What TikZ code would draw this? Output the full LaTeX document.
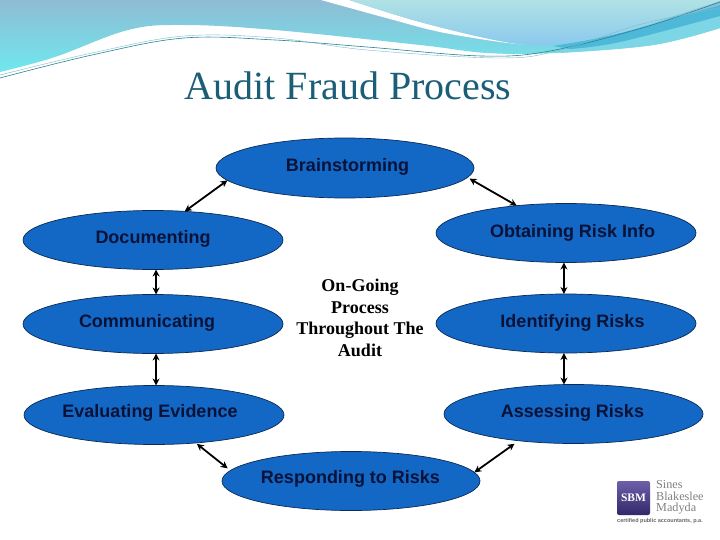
\documentclass[tikz,border=0pt]{standalone}
\usepackage{fontspec}
\setmainfont{Liberation Serif}
\setsansfont{Liberation Sans}
\usetikzlibrary{shapes.geometric,arrows.meta}
\definecolor{ellfill}{HTML}{1268C4}
\definecolor{ellline}{HTML}{0B2A55}
\definecolor{navytext}{HTML}{0A1238}
\definecolor{titlecol}{HTML}{1B5E78}
\definecolor{wavetop}{RGB}{143,188,212}
\definecolor{wavebot}{RGB}{110,232,238}
\definecolor{swelltop}{RGB}{176,226,228}
\definecolor{swellbot}{RGB}{138,200,238}
\definecolor{stripe}{RGB}{77,184,216}
\definecolor{stripeb}{RGB}{125,214,230}
\definecolor{thinA}{RGB}{40,130,150}
\definecolor{thinB}{RGB}{120,190,200}
\definecolor{logotop}{RGB}{110,95,170}
\definecolor{logobot}{RGB}{50,40,105}
\tikzset{
  bubble/.style={ellipse,draw=ellline,fill=ellfill,line width=0.7pt,inner sep=0pt,outer sep=0pt,minimum width=260pt,minimum height=59pt},
  bubbletext/.style={font=\sffamily\bfseries\fontsize{18}{20}\selectfont,text=navytext,inner sep=0pt},
  link/.style={{Stealth[length=7pt,width=7pt]}-{Stealth[length=7pt,width=7pt]},line width=1.8pt,draw=black},
}
\begin{document}
\begin{tikzpicture}[x=1pt,y=-1pt]
\useasboundingbox (0,0) rectangle (720,540);
\fill[white] (0,0) rectangle (720,540);
% header waves
\shade[top color=wavetop,bottom color=wavebot]
  (0,0) -- (720,0) -- (720,28) -- plot[smooth,tension=0.6] coordinates {(720,28) (653,45) (553,53) (487,53) (420,45) (275,30) (184,25) (128,30) (55,57) (0,72)} -- cycle;
\fill[white] plot[smooth,tension=0.6] coordinates {(321,0) (390,19) (440,32) (500,42) (530,45)} -- plot[smooth,tension=0.6] coordinates {(530,45) (500,41) (420,22) (349,0)} -- cycle;
\fill[stripeb] plot[smooth,tension=0.6] coordinates {(553,50) (620,38) (720,10)} -- (720,28) -- plot[smooth,tension=0.6] coordinates {(720,28) (653,45) (560,53)} -- cycle;
\fill[stripe] plot[smooth,tension=0.6] coordinates {(553,46) (620,33) (720,5)} -- (720,16) -- plot[smooth,tension=0.6] coordinates {(720,16) (620,42) (570,49)} -- cycle;
\shade[top color=swelltop,bottom color=swellbot]
  plot[smooth,tension=0.6] coordinates {(349,0) (420,22) (500,41) (553,45) (620,33) (680,14) (720,1)} -- (720,0) -- cycle;
\draw[line width=0.6pt,draw=thinA] plot[smooth,tension=0.6] coordinates {(0,78) (92,55) (184,38) (275,40) (367,47) (482,56) (550,51) (642,28) (720,2)};
\draw[line width=0.4pt,draw=thinB] plot[smooth,tension=0.6] coordinates {(0,75) (92,53) (184,36) (275,38) (367,50) (500,58) (560,50) (642,24) (720,8)};
% title
\node[font=\fontsize{40}{42}\selectfont,text=titlecol,inner sep=0pt] (title) at (348,86) {Audit Fraud Process};
% bubbles
\node[bubble,minimum width=258pt,minimum height=60pt] (brain) at (345,168) {};
\node[bubble] (doc) at (153,240) {};
\node[bubble] (obt) at (566,233) {};
\node[bubble] (com) at (153,324) {};
\node[bubble] (ide) at (566,323.5) {};
\node[bubble] (eva) at (154,415) {};
\node[bubble,minimum width=259pt] (ass) at (573.5,414) {};
\node[bubble,minimum width=258pt] (res) at (351,481) {};
% labels
\node[bubbletext] (tbrain) at (347.5,166.5) {Brainstorming};
\node[bubbletext] (tdoc) at (153,238.5) {Documenting};
\node[bubbletext] (tobt) at (572.5,233) {Obtaining Risk Info};
\node[bubbletext] (tcom) at (147,322.5) {Communicating};
\node[bubbletext] (tide) at (572.5,322.5) {Identifying Risks};
\node[bubbletext] (teva) at (150,412.5) {Evaluating Evidence};
\node[bubbletext] (tass) at (572.5,412.5) {Assessing Risks};
\node[bubbletext] (tres) at (350.5,478.5) {Responding to Risks};
\node[font=\bfseries\fontsize{18}{21.6}\selectfont,align=center,text=black,inner sep=0pt] (center) at (360,318) {On-Going\\Process\\Throughout The\\Audit};
% connectors
\draw[link] (brain.186.3) -- (doc.42.3);
\draw[link] ([shift={(1,2)}]brain.-4.6) -- (obt.151.5);
\draw[link] (doc.-84.2) -- (com.84.2);
\draw[link] (com.-84.2) -- (eva.86.1);
\draw[link] (obt.-94.9) -- (ide.94.9);
\draw[link] (ide.-94.5) -- (ass.108.5);
\draw[link] ([shift={(0,1)}]eva.-33) -- ([shift={(0,-4)}]res.176.2);
\draw[link] ([shift={(0,3.5)}]ass.204.7) -- (res.4.2);
% logo
\shade[top color=logotop,bottom color=logobot,rounded corners=2pt] (617,481) rectangle (650,515);
\node[font=\bfseries\fontsize{11.5}{12}\selectfont,text=white,inner sep=0pt] (lsbm) at (633.5,498) {SBM};
\node[font=\fontsize{12.2}{11.7}\selectfont,text=black!50,align=left,inner sep=0pt,anchor=west] (lname) at (656,497.5) {Sines\\Blakeslee\\Madyda};
\node[font=\sffamily\bfseries\fontsize{5.5}{6}\selectfont,text=black!60,inner sep=0pt] (lsub) at (660,521) {certified public accountants, p.a.};
\end{tikzpicture}
\end{document}
